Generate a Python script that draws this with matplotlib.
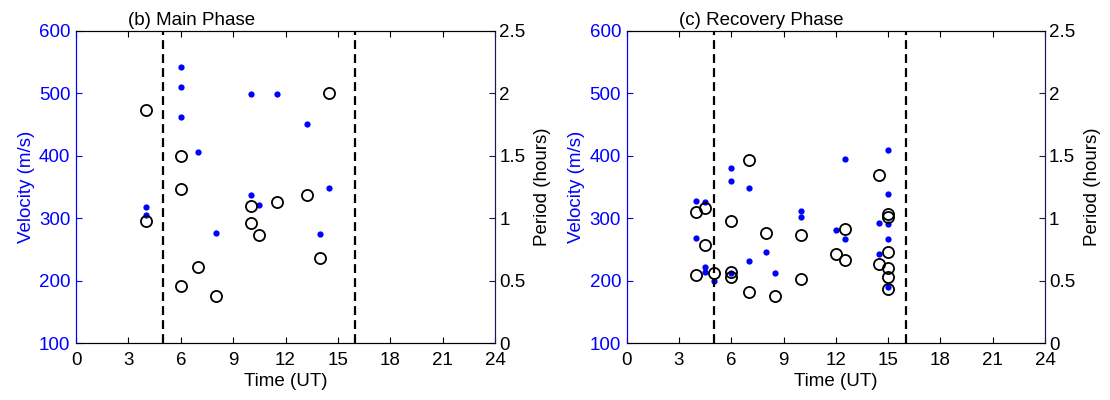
import numpy as np
import matplotlib.pyplot as plt

plt.rcParams['font.family'] = ['Liberation Sans', 'DejaVu Sans']
plt.rcParams['font.size'] = 13.5

# (b) Main Phase
main_vel_t = [4, 4, 6, 6, 6, 7, 8, 10, 10, 10.5, 11.5, 13.25, 14, 14.5]
main_vel = [318, 305, 542, 510, 462, 406, 276, 499, 337, 321, 499, 451, 274, 348]
main_per_t = [4, 4, 6, 6, 6, 7, 8, 10, 10, 10.5, 11.5, 13.25, 14, 14.5]
main_per = [1.87, 0.98, 1.50, 1.23, 0.46, 0.61, 0.38, 1.10, 0.965, 0.864, 1.133, 1.183, 0.68, 2.0]

# (c) Recovery Phase
rec_vel_t = [4, 4, 4.5, 4.5, 4.5, 5, 6, 6, 6, 7, 7, 8, 8.5, 10, 10,
             12, 12.5, 12.5, 14.5, 14.5, 15, 15, 15, 15, 15]
rec_vel = [328, 269, 326, 222, 214, 200, 380, 360, 212, 349, 231, 246, 212, 311, 302,
           281, 395, 266, 292, 242, 410, 338, 290, 267, 190]
rec_per_t = [4, 4, 4.5, 4.5, 5, 6, 6, 6, 7, 7, 8, 8.5, 10, 10,
             12, 12.5, 12.5, 14.5, 14.5, 15, 15, 15, 15, 15, 15]
rec_per = [1.047, 0.546, 1.082, 0.783, 0.56, 0.98, 0.568, 0.528, 1.466, 0.413, 0.884, 0.38, 0.863, 0.516,
           0.711, 0.914, 0.666, 1.348, 0.631, 1.031, 1.012, 0.732, 0.599, 0.532, 0.432]

phase_bounds = [5, 16]
xticks = [0, 3, 6, 9, 12, 15, 18, 21, 24]
vel_ticks = [100, 200, 300, 400, 500, 600]
per_ticks = [0, 0.5, 1, 1.5, 2, 2.5]
per_labels = ['0', '0.5', '1', '1.5', '2', '2.5']

blue = '#0000ff'
navy = '#1a1a55'

fig = plt.figure(figsize=(11.1, 4), dpi=100)
panels = [
    ([0.0685, 0.142, 0.3775, 0.781], '(b) Main Phase', main_vel_t, main_vel, main_per_t, main_per),
    ([0.5646, 0.142, 0.3768, 0.781], '(c) Recovery Phase', rec_vel_t, rec_vel, rec_per_t, rec_per),
]

for rect, title, vt, v, pt, p in panels:
    ax = fig.add_axes(rect)
    ax.plot(vt, v, 'o', color=blue, markersize=4.5, markeredgewidth=0)
    for xb in phase_bounds:
        ax.axvline(xb, color='k', linestyle=(0, (4, 2.3)), linewidth=1.6)
    ax.set_xlim(0, 24)
    ax.set_ylim(100, 600)
    ax.set_xticks(xticks)
    ax.set_yticks(vel_ticks)
    ax.tick_params(axis='x', direction='in', top=True, length=4, colors='k', pad=6)
    ax.tick_params(axis='y', direction='in', length=4, colors=blue, pad=4)
    ax.spines['left'].set_color(blue)
    ax.spines['right'].set_color(navy)
    ax.set_xlabel('Time (UT)', labelpad=3)
    ax.set_ylabel('Velocity (m/s)', color=blue, labelpad=3)
    ax.text(3, 1.005, title, transform=ax.get_xaxis_transform(), ha='left', va='bottom')

    ax2 = ax.twinx()
    ax2.plot(pt, p, 'o', markerfacecolor='none', markeredgecolor='k', markersize=8, markeredgewidth=1.3)
    ax2.set_ylim(0, 2.5)
    ax2.set_yticks(per_ticks)
    ax2.set_yticklabels(per_labels)
    ax2.tick_params(axis='y', direction='in', length=4, color=navy, labelcolor='k', pad=3)
    ax2.spines['right'].set_color(navy)
    ax2.spines['left'].set_color(blue)
    ax2.set_ylabel('Period (hours)', color='k', labelpad=6)

fig.savefig('out.png', dpi=100)
